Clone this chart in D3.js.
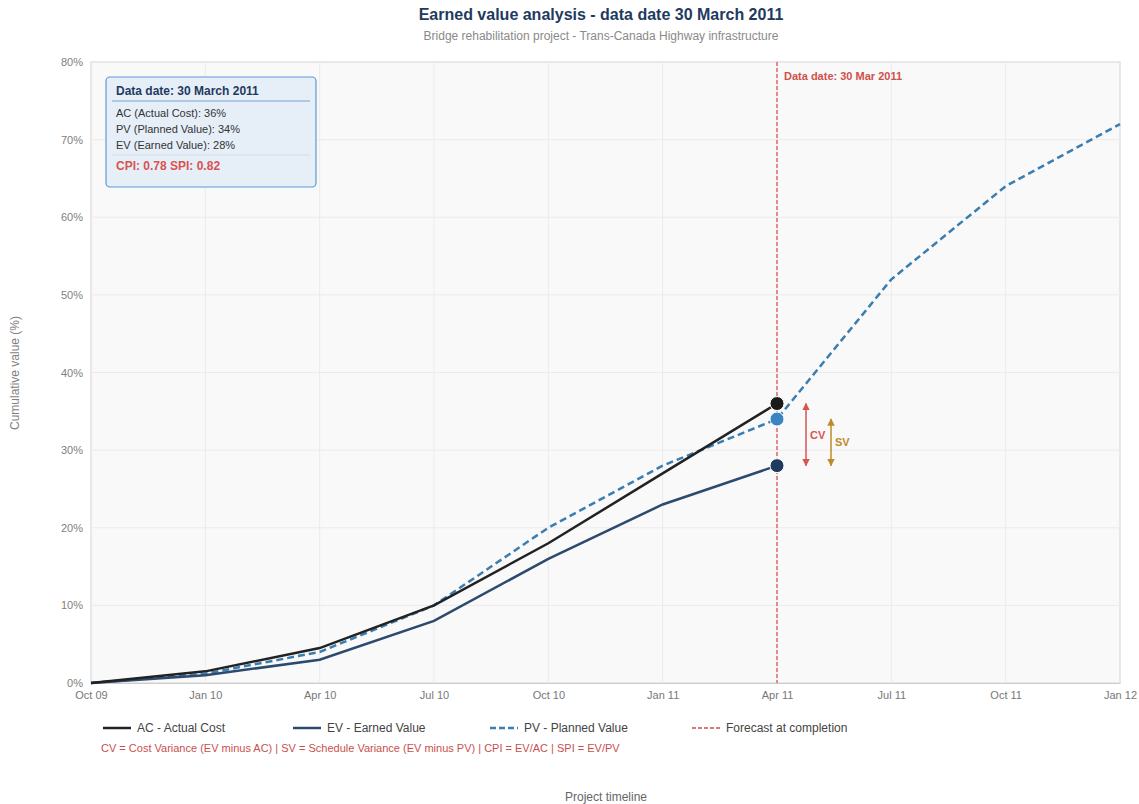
<!DOCTYPE html>
<html><head><meta charset="utf-8">
<script src="https://cdn.jsdelivr.net/npm/d3@7"></script>
<style>
html,body{margin:0;padding:0;background:#fff;}
svg{font-family:"Liberation Sans",Arial,Helvetica,sans-serif;display:block;}
</style></head>
<body><svg id="chart" width="1139" height="804"></svg>
<script>
const quarters = ["Oct 09","Jan 10","Apr 10","Jul 10","Oct 10","Jan 11","Apr 11","Jul 11","Oct 11","Jan 12"];
const acValues = [0, 1.5, 4.5, 10, 18, 27, 36];
const evValues = [0, 1, 3, 8, 16, 23, 28];
const pvValues = [0, 1.2, 4, 10, 20, 28, 34, 52, 64, 72];
const yTicks = [0,10,20,30,40,50,60,70,80];
const dataDateIndex = 6;
const infoLines = ["AC (Actual Cost): 36%","PV (Planned Value): 34%","EV (Earned Value): 28%"];
const legendItems = [
  {label:"AC - Actual Cost", color:"#222222", dash:null},
  {label:"EV - Earned Value", color:"#2c4a6e", dash:null},
  {label:"PV - Planned Value", color:"#3a7db0", dash:"6,3"},
  {label:"Forecast at completion", color:"#c9504d", dash:"4,2"}
];

const svg = d3.select("#chart");
const L=91, R=1120, T=62, B=683;
const x = d3.scalePoint().domain(quarters).range([L,R]);
const y = d3.scaleLinear().domain([0,80]).range([B,T]);

// title
svg.append("text").attr("x",601).attr("y",20).attr("text-anchor","middle")
  .attr("font-size",16).attr("font-weight","bold").attr("fill","#1f3a5f")
  .text("Earned value analysis - data date 30 March 2011");
svg.append("text").attr("x",601).attr("y",40).attr("text-anchor","middle")
  .attr("font-size",12).attr("fill","#8a8a8a")
  .text("Bridge rehabilitation project - Trans-Canada Highway infrastructure");

// plot bg
svg.append("rect").attr("x",L).attr("y",T).attr("width",R-L).attr("height",B-T)
  .attr("fill","#f9f9f9").attr("stroke","#dddddd").attr("stroke-width",1.5);

// grid
svg.append("g").selectAll("line").data(yTicks).join("line")
  .attr("x1",L).attr("x2",R).attr("y1",d=>y(d)).attr("y2",d=>y(d))
  .attr("stroke","#ebebeb").attr("stroke-width",1);
svg.append("g").selectAll("line").data(quarters).join("line")
  .attr("x1",d=>x(d)).attr("x2",d=>x(d)).attr("y1",T).attr("y2",B)
  .attr("stroke","#ebebeb").attr("stroke-width",1);

// axes
const yAxis = svg.append("g").attr("transform",`translate(${L},0)`)
  .call(d3.axisLeft(y).tickValues(yTicks).tickFormat(d=>d+"%").tickSize(0).tickPadding(8));
yAxis.select(".domain").remove();
yAxis.selectAll("text").attr("font-size",11).attr("fill","#808080").attr("font-family","Liberation Sans, Arial, sans-serif");
const xAxis = svg.append("g").attr("transform",`translate(0,${B})`)
  .call(d3.axisBottom(x).tickSize(0).tickPadding(8));
xAxis.select(".domain").attr("stroke","#cccccc");
xAxis.selectAll("text").attr("font-size",11).attr("fill","#777").attr("font-family","Liberation Sans, Arial, sans-serif");

svg.append("text").attr("transform","translate(19,373) rotate(-90)").attr("text-anchor","middle")
  .attr("font-size",12).attr("fill","#808080").text("Cumulative value (%)");
svg.append("text").attr("x",606).attr("y",801).attr("text-anchor","middle")
  .attr("font-size",12).attr("fill","#666").text("Project timeline");

// data date line
const xd = x(quarters[dataDateIndex]);
svg.append("line").attr("x1",xd).attr("x2",xd).attr("y1",T).attr("y2",B)
  .attr("stroke","#d9534f").attr("stroke-width",1.3).attr("stroke-dasharray","4,2");
svg.append("text").attr("x",xd+7).attr("y",80).attr("font-size",11).attr("font-weight","bold")
  .attr("fill","#d0504c").text("Data date: 30 Mar 2011");

const line = d3.line().x((d,i)=>x(quarters[i])).y(d=>y(d));
svg.append("path").datum(pvValues).attr("d",line).attr("fill","none")
  .attr("stroke","#3a7db0").attr("stroke-width",2.5).attr("stroke-dasharray","7,4");
svg.append("path").datum(evValues).attr("d",line).attr("fill","none")
  .attr("stroke","#2c4a6e").attr("stroke-width",2.5);
svg.append("path").datum(acValues).attr("d",line).attr("fill","none")
  .attr("stroke","#222222").attr("stroke-width",2.5);

// markers
const markers = [
  {v:acValues[dataDateIndex], c:"#1a1a1a"},
  {v:pvValues[dataDateIndex], c:"#3a84c4"},
  {v:evValues[dataDateIndex], c:"#1f3a5f"}
];
svg.selectAll(".mk").data(markers).join("circle").attr("class","mk")
  .attr("cx",xd).attr("cy",d=>y(d.v)).attr("r",7).attr("fill",d=>d.c)
  .attr("stroke","#fff").attr("stroke-width",1);

// variance arrows
const defs = svg.append("defs");
function marker(id,color){
  const m = defs.append("marker").attr("id",id).attr("viewBox","0 0 10 10").attr("refX",9).attr("refY",5)
    .attr("markerWidth",5).attr("markerHeight",5).attr("orient","auto-start-reverse");
  m.append("path").attr("d","M0,0 L10,5 L0,10 z").attr("fill",color);
}
marker("arrR","#d9534f"); marker("arrG","#c08a2a");
svg.append("line").attr("x1",xd+29).attr("x2",xd+29)
  .attr("y1",y(acValues[dataDateIndex])).attr("y2",y(evValues[dataDateIndex]))
  .attr("stroke","#d9534f").attr("stroke-width",1.5)
  .attr("marker-start","url(#arrR)").attr("marker-end","url(#arrR)");
svg.append("text").attr("x",xd+33).attr("y",(y(acValues[dataDateIndex])+y(evValues[dataDateIndex]))/2+4)
  .attr("font-size",11).attr("font-weight","bold").attr("fill","#d9534f").text("CV");
svg.append("line").attr("x1",xd+54).attr("x2",xd+54)
  .attr("y1",y(pvValues[dataDateIndex])).attr("y2",y(evValues[dataDateIndex]))
  .attr("stroke","#c08a2a").attr("stroke-width",1.5)
  .attr("marker-start","url(#arrG)").attr("marker-end","url(#arrG)");
svg.append("text").attr("x",xd+58).attr("y",(y(pvValues[dataDateIndex])+y(evValues[dataDateIndex]))/2+4)
  .attr("font-size",11).attr("font-weight","bold").attr("fill","#c08a2a").text("SV");

// info box
const bx=106, by=77;
svg.append("rect").attr("x",bx).attr("y",by).attr("width",210).attr("height",110).attr("rx",4)
  .attr("fill","#e6eef8").attr("stroke","#5b9bd5").attr("stroke-width",1.2);
svg.append("text").attr("x",bx+10).attr("y",by+18).attr("font-size",12).attr("font-weight","bold")
  .attr("fill","#1f3a5f").text("Data date: 30 March 2011");
svg.append("line").attr("x1",bx+6).attr("x2",bx+204).attr("y1",by+24).attr("y2",by+24)
  .attr("stroke","#9dbbdc").attr("stroke-width",1.5);
svg.selectAll(".info").data(infoLines).join("text").attr("class","info")
  .attr("x",bx+10).attr("y",(d,i)=>by+40+i*16).attr("font-size",11).attr("fill","#333").text(d=>d);
svg.append("line").attr("x1",bx+6).attr("x2",bx+204).attr("y1",by+78).attr("y2",by+78)
  .attr("stroke","#d8dde5").attr("stroke-width",1);
svg.append("text").attr("x",bx+10).attr("y",by+93).attr("font-size",12).attr("font-weight","bold")
  .attr("fill","#d9534f").text("CPI: 0.78 SPI: 0.82");

// legend
const legX = [103, 293, 490, 692];
const lg = svg.selectAll(".lg").data(legendItems).join("g").attr("class","lg")
  .attr("transform",(d,i)=>`translate(${legX[i]},728)`);
lg.append("line").attr("x1",0).attr("x2",28).attr("y1",0).attr("y2",0)
  .attr("stroke",d=>d.color).attr("stroke-width",d=>d.label.startsWith("Forecast")?1.5:2.5)
  .attr("stroke-dasharray",d=>d.dash);
lg.append("text").attr("x",34).attr("y",4).attr("font-size",12).attr("fill","#444").text(d=>d.label);
svg.append("text").attr("x",101).attr("y",752).attr("font-size",11).attr("fill","#c9504d")
  .text("CV = Cost Variance (EV minus AC) | SV = Schedule Variance (EV minus PV) | CPI = EV/AC | SPI = EV/PV");
</script></body></html>
